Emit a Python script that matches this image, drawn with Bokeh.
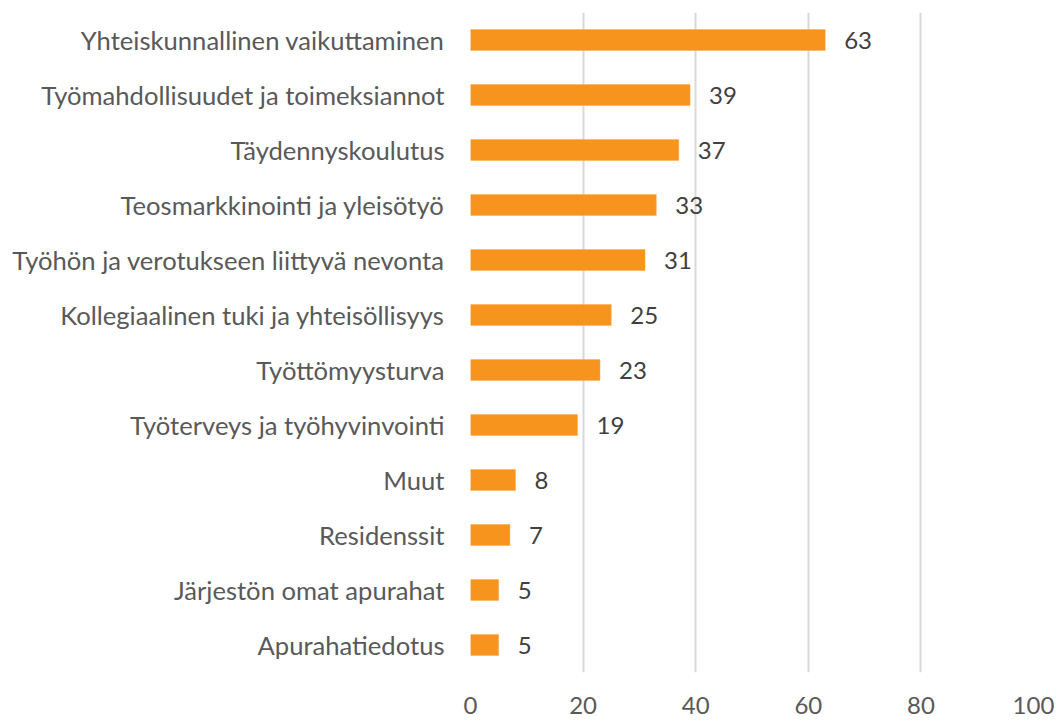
from bokeh.plotting import figure
from bokeh.models import FactorRange, Range1d, FixedTicker, ColumnDataSource, LabelSet
from bokeh.core.properties import value
from bokeh.embed import file_html
from bokeh.resources import INLINE

categories = [
    "Yhteiskunnallinen vaikuttaminen",
    "Työmahdollisuudet ja toimeksiannot",
    "Täydennyskoulutus",
    "Teosmarkkinointi ja yleisötyö",
    "Työhön ja verotukseen liittyvä nevonta",
    "Kollegiaalinen tuki ja yhteisöllisyys",
    "Työttömyysturva",
    "Työterveys ja työhyvinvointi",
    "Muut",
    "Residenssit",
    "Järjestön omat apurahat",
    "Apurahatiedotus",
]
values = [63, 39, 37, 33, 31, 25, 23, 19, 8, 7, 5, 5]
x_ticks = [0, 20, 40, 60, 80, 100]

FONT = "Lato"

src = ColumnDataSource(dict(cat=categories, val=values, lbl=[str(v) for v in values]))

p = figure(
    width=1056, height=720,
    y_range=FactorRange(factors=list(reversed(categories))),
    x_range=Range1d(0, 100),
    output_backend="svg", toolbar_location=None,
    min_border_left=470, min_border_right=23, min_border_top=12, min_border_bottom=48,
)
p.outline_line_color = None
p.background_fill_color = "white"
p.border_fill_color = "white"

p.hbar(y="cat", left=0, right="val", height=0.38, source=src,
       fill_color="#F7941D", line_color="#F9A94A", line_width=0.5)

labels = LabelSet(x="val", y="cat", text="lbl", source=src, x_offset=19,
                  text_baseline="middle", text_align="left",
                  text_font=value(FONT), text_font_size="24px", text_color="#404040")
p.add_layout(labels)

p.xaxis.ticker = FixedTicker(ticks=x_ticks)
p.xaxis.axis_line_color = None
p.xaxis.major_tick_line_color = None
p.xaxis.minor_tick_line_color = None
p.xaxis.major_label_standoff = 18
p.xaxis.major_label_text_font = FONT
p.xaxis.major_label_text_font_size = "24px"
p.xaxis.major_label_text_color = "#595959"

p.yaxis.axis_line_color = None
p.yaxis.major_tick_line_color = None
p.yaxis.minor_tick_line_color = None
p.yaxis.major_label_standoff = 20
p.yaxis.major_label_text_font = FONT
p.yaxis.major_label_text_font_size = "25.6px"
p.yaxis.major_label_text_color = "#595959"

p.ygrid.grid_line_color = None
p.xgrid.grid_line_color = "#D9D9D9"
p.xgrid.grid_line_width = 2

open("out.html", "w").write(file_html(p, INLINE))
